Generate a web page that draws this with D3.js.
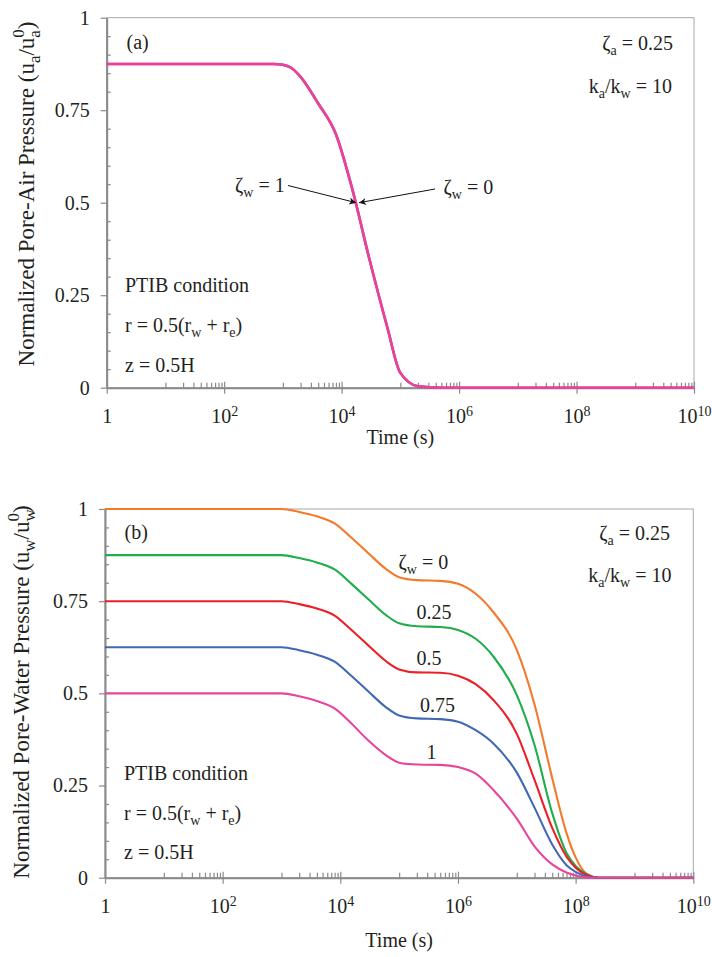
<!DOCTYPE html>
<html>
<head>
<meta charset="utf-8">
<script src="https://cdn.jsdelivr.net/npm/d3@7"></script>
<style>
  body { margin: 0; background: #fff; }
  svg { display: block; font-family: "Liberation Serif", serif; }
</style>
</head>
<body>
<svg id="chart" width="712" height="957"></svg>
<script>
// ---- data -------------------------------------------------------------
// (a) sampling times (s) and normalized pore-air pressure;
// the zeta_w = 0 and zeta_w = 1 curves coincide
const airTimes  = [1, 10, 100, 700, 1000, 1400, 2000, 4000, 8000, 1.5e4, 3e4, 6e4, 1e5, 2e5, 5e5, 1e10];
const airZetaW0 = [0.875, 0.875, 0.875, 0.875, 0.873, 0.864, 0.84, 0.768, 0.685, 0.54, 0.345, 0.163, 0.04, 0.004, 0, 0];
const airZetaW1 = [0.875, 0.875, 0.875, 0.875, 0.873, 0.864, 0.84, 0.768, 0.685, 0.54, 0.345, 0.163, 0.04, 0.004, 0, 0];

// (b) sampling times (s) and normalized pore-water pressure for each zeta_w
const times = [1, 10, 100, 1000, 2000, 4000, 8000, 1.5e4, 3e4, 6e4, 1e5, 2e5, 5e5,
               1e6, 2e6, 4e6, 1e7, 2e7, 4e7, 7e7, 1e8, 1.5e8, 2.5e8, 1e9, 1e10];
const zetaW = ["0", "0.25", "0.5", "0.75", "1"];
const waterZetaW0   = [1, 1, 1, 1, 0.992, 0.98, 0.961, 0.924, 0.88, 0.837, 0.815, 0.807, 0.805,
                       0.797, 0.77, 0.72, 0.618, 0.47, 0.27, 0.121, 0.055, 0.012, 0, 0, 0];
const waterZetaW025 = [0.875, 0.875, 0.875, 0.875, 0.867, 0.855, 0.836, 0.799, 0.755, 0.712, 0.69, 0.682, 0.68,
                       0.672, 0.648, 0.60, 0.495, 0.36, 0.175, 0.067, 0.032, 0.01, 0, 0, 0];
const waterZetaW05  = [0.75, 0.75, 0.75, 0.75, 0.742, 0.73, 0.711, 0.674, 0.63, 0.587, 0.565, 0.557, 0.556,
                       0.548, 0.525, 0.482, 0.39, 0.265, 0.135, 0.057, 0.027, 0.008, 0, 0, 0];
const waterZetaW075 = [0.625, 0.625, 0.625, 0.625, 0.617, 0.605, 0.586, 0.549, 0.505, 0.462, 0.44, 0.432, 0.43,
                       0.423, 0.40, 0.364, 0.285, 0.19, 0.09, 0.034, 0.016, 0.004, 0, 0, 0];
const waterZetaW1   = [0.5, 0.5, 0.5, 0.5, 0.492, 0.479, 0.459, 0.42, 0.372, 0.332, 0.312, 0.307, 0.306,
                       0.30, 0.282, 0.238, 0.16, 0.085, 0.036, 0.014, 0.006, 0.001, 0, 0, 0];

// axis ticks
const xMajorTicks = [1, 1e2, 1e4, 1e6, 1e8, 1e10];
const xTickExponents = [null, "2", "4", "6", "8", "10"];
const yMajorTicks = [0, 0.25, 0.5, 0.75, 1];
const yTickLabels = ["0", "0.25", "0.5", "0.75", "1"];

// ---- styling / layout ---------------------------------------------------
const FAMILY = '"Liberation Serif", serif';
const INK = "#231f20";
const FONT = 20, SMALL = 14;
const TITLE = 23, TITLE_SMALL = 17;
const axisColor = "#8a8a8a";
const frameColor = "#a8a8a8";
const colors = {
  airW0: "#c23b8c", airW1: "#e8439a",
  w0: "#f47a2a", w025: "#20ad4b", w05: "#ec1f26", w075: "#4169b3", w1: "#e8449b"
};

// minor ticks: 10..90 within each pair of decades, every 0.05 on y
const xMinorTicks = [];
for (let k = 0; k < 5; k++) for (let m = 1; m <= 9; m++) xMinorTicks.push(m * Math.pow(10, 2 * k + 1));
const yMinorTicks = d3.range(1, 20).map(i => i * 0.05)
  .filter(v => Math.abs(v / 0.25 - Math.round(v / 0.25)) > 1e-6);

const svg = d3.select("#chart");

function font(sel, size) {
  return sel.style("font-family", FAMILY).style("font-size", size + "px").style("fill", INK);
}

// text with sub/superscripts: parts = [[string, kind, backDx], ...]
function rich(textSel, parts, big, small) {
  big = big || FONT; small = small || SMALL;
  let shift = 0;
  parts.forEach(([s, kind, back]) => {
    const t = textSel.append("tspan").text(s);
    let target = 0;
    if (kind === "sub") { font(t, small); target = big * 0.25; }
    else if (kind === "sup") { font(t, small); target = -big * 0.35; }
    else if (kind === "supback") { font(t, small).attr("dx", -back); target = -big * 0.42; }
    else { font(t, big); target = 0; }
    if (target !== shift) { t.attr("dy", target - shift); shift = target; }
  });
  return textSel;
}

function label(g, x, y, parts, anchor) {
  const t = font(g.append("text"), FONT).attr("x", x).attr("y", y)
    .attr("text-anchor", anchor || "start");
  return rich(t, parts);
}

function styleTicks(sel, keepDomain) {
  sel.attr("font-family", null).attr("font-size", null);
  if (!keepDomain) sel.select(".domain").remove();
  else sel.select(".domain").attr("stroke", axisColor).attr("stroke-width", 2);
  sel.selectAll(".tick line").attr("stroke", axisColor).attr("stroke-width", 1.2);
}

function panel(p) {
  const g = svg.append("g");
  const x = d3.scaleLog().domain([1, 1e10]).range([p.left, p.right]);
  const y = d3.scaleLinear().domain([0, 1]).range([p.bottom, p.top]);

  // top / right frame
  g.append("rect").attr("x", p.left).attr("y", p.top)
    .attr("width", p.right - p.left).attr("height", p.bottom - p.top)
    .attr("fill", "none").attr("stroke", frameColor).attr("stroke-width", 1);

  // y axis: major outward with labels, minor inward
  g.append("g").attr("transform", `translate(${p.left},0)`)
    .call(d3.axisRight(y).tickValues(yMinorTicks).tickSize(4).tickFormat(""))
    .call(s => styleTicks(s, false));
  const ya = g.append("g").attr("transform", `translate(${p.left},0)`)
    .call(d3.axisLeft(y).tickValues(yMajorTicks).tickSize(6).tickSizeOuter(0)
      .tickPadding(11).tickFormat((d, i) => yTickLabels[i]))
    .call(s => styleTicks(s, true));
  font(ya.selectAll(".tick text"), FONT);

  // x axis: major ticks cross the axis, minor inward
  g.append("g").attr("transform", `translate(0,${p.bottom})`)
    .call(d3.axisTop(x).tickValues(xMinorTicks).tickSize(5).tickFormat(""))
    .call(s => styleTicks(s, false));
  g.append("g").attr("transform", `translate(0,${p.bottom})`)
    .call(d3.axisTop(x).tickValues(xMajorTicks).tickSize(6).tickFormat(""))
    .call(s => styleTicks(s, false));
  const xa = g.append("g").attr("transform", `translate(0,${p.bottom})`)
    .call(d3.axisBottom(x).tickValues(xMajorTicks).tickSize(6).tickSizeOuter(0)
      .tickPadding(15).tickFormat(""))
    .call(s => styleTicks(s, true));
  xa.selectAll(".tick text").each(function (d, i) {
    const t = font(d3.select(this), FONT);
    const e = xTickExponents[i];
    if (e === null) t.append("tspan").text("1");
    else {
      t.append("tspan").text("10");
      font(t.append("tspan"), SMALL).attr("dy", -7).text(e);
    }
  });

  // axis titles
  font(g.append("text"), FONT).attr("x", (p.left + p.right) / 2).attr("y", p.xTitleY)
    .attr("text-anchor", "middle").text("Time (s)");
  const yt = font(g.append("text"), TITLE)
    .attr("transform", `translate(${p.yTitleX},${p.yTitleY}) rotate(-90)`)
    .attr("text-anchor", "middle");
  rich(yt, [[p.yTitle + " (u", null], [p.sym, "sub"], ["/u", null], [p.sym, "sub"],
            ["0", "supback", p.symWidth * TITLE_SMALL], [")", null]], TITLE, TITLE_SMALL);

  return { g, x, y };
}

const line = (x, y) => d3.line()
  .x(d => x(d.t)).y(d => y(d.v)).curve(d3.curveMonotoneX);
const pts = (ts, vals) => ts.map((t, i) => ({ t, v: vals[i] }));

// arrowhead marker for the annotation leaders
svg.append("defs").append("marker").attr("id", "head").attr("viewBox", "0 0 10 10")
  .attr("refX", 10).attr("refY", 5).attr("markerWidth", 9).attr("markerHeight", 7)
  .attr("markerUnits", "userSpaceOnUse").attr("orient", "auto")
  .append("path").attr("d", "M0,0 L10,5 L0,10 L3,5 Z").attr("fill", "#111");

// ---- panel (a) ---------------------------------------------------------
{
  const P = { left: 106.7, right: 694, top: 17.7, bottom: 387.7, xTitleY: 444,
              yTitleX: 34, yTitleY: 194, yTitle: "Normalized Pore-Air Pressure", sym: "a", symWidth: 0.444 };
  const { g, x, y } = panel(P);
  [[airZetaW0, colors.airW0], [airZetaW1, colors.airW1]].forEach(([vals, c]) => {
    g.append("path").datum(pts(airTimes, vals)).attr("fill", "none").attr("stroke", c)
      .attr("stroke-width", 2.6).attr("d", line(x, y));
  });

  label(g, 126.5, 49, [["(a)", null]]);
  label(g, 673, 50, [["ζ", null], ["a", "sub"], [" = 0.25", null]], "end");
  label(g, 672, 93, [["k", null], ["a", "sub"], ["/k", null], ["w", "sub"], [" = 10", null]], "end");
  label(g, 125, 291.5, [["PTIB condition", null]]);
  label(g, 125, 331.5, [["r = 0.5(r", null], ["w", "sub"], [" + r", null], ["e", "sub"], [")", null]]);
  label(g, 125, 371.5, [["z = 0.5H", null]]);

  // leaders pointing to the coincident curves at u = 0.5
  const tipT = 1.8e4, tipV = 0.5;
  g.append("line").attr("x1", 288).attr("y1", 185.5)
    .attr("x2", x(tipT) - 0.5).attr("y2", y(tipV)).attr("stroke", "#111").attr("stroke-width", 1)
    .attr("marker-end", "url(#head)");
  g.append("line").attr("x1", 435).attr("y1", 189)
    .attr("x2", x(tipT) + 2.5).attr("y2", y(tipV)).attr("stroke", "#111").attr("stroke-width", 1)
    .attr("marker-end", "url(#head)");
  label(g, 235, 192, [["ζ", null], ["w", "sub"], [" = 1", null]]);
  label(g, 443.5, 194, [["ζ", null], ["w", "sub"], [" = 0", null]]);
}

// ---- panel (b) ---------------------------------------------------------
{
  const P = { left: 105, right: 693.3, top: 509, bottom: 877.7, xTitleY: 947,
              yTitleX: 29, yTitleY: 692, yTitle: "Normalized Pore-Water Pressure", sym: "w", symWidth: 0.722 };
  const { g, x, y } = panel(P);
  const series = [
    [waterZetaW0, colors.w0], [waterZetaW025, colors.w025], [waterZetaW05, colors.w05],
    [waterZetaW075, colors.w075], [waterZetaW1, colors.w1]
  ];
  series.forEach(([vals, c]) => {
    g.append("path").datum(pts(times, vals)).attr("fill", "none").attr("stroke", c)
      .attr("stroke-width", 2.1).attr("d", line(x, y));
  });

  label(g, 124.5, 539, [["(b)", null]]);
  label(g, 670, 540, [["ζ", null], ["a", "sub"], [" = 0.25", null]], "end");
  label(g, 671.5, 581.5, [["k", null], ["a", "sub"], ["/k", null], ["w", "sub"], [" = 10", null]], "end");
  label(g, 124, 780, [["PTIB condition", null]]);
  label(g, 124, 820, [["r = 0.5(r", null], ["w", "sub"], [" + r", null], ["e", "sub"], [")", null]]);
  label(g, 124, 858.5, [["z = 0.5H", null]]);

  // curve labels (zeta_w)
  label(g, 398.5, 568.5, [["ζ", null], ["w", "sub"], [" = " + zetaW[0], null]]);
  label(g, 416.5, 618.5, [[zetaW[1], null]]);
  label(g, 416.5, 665, [[zetaW[2], null]]);
  label(g, 420, 711.5, [[zetaW[3], null]]);
  label(g, 426.5, 758.5, [[zetaW[4], null]]);
}
</script>
</body>
</html>
